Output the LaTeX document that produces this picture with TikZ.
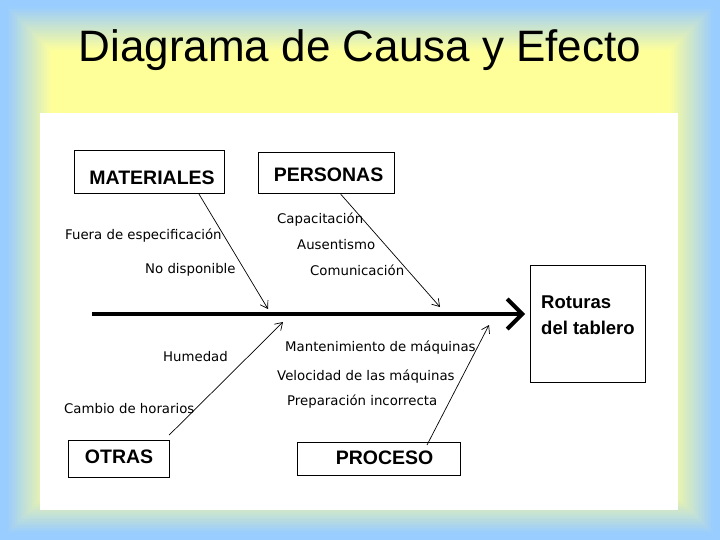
\documentclass[tikz,border=0pt]{standalone}
\usepackage{fontspec}
\setmainfont{Liberation Sans}
\newfontfamily\lblfont{DejaVu Sans}
\usetikzlibrary{arrows.meta,calc}
\definecolor{bgblue}{RGB}{153,204,255}
\definecolor{bgyellow}{RGB}{255,255,153}
\begin{document}
\begin{tikzpicture}[x=1pt,y=-1pt,
  catbox/.style={draw=black, line width=1.2pt, inner sep=0pt, anchor=north west, font=\fontsize{19.5}{22}\selectfont\bfseries},
  cause/.style={anchor=base west, inner sep=0pt, font=\lblfont\fontsize{13.3}{15}\selectfont},
  bone/.style={line width=0.7pt, -{Straight Barb[length=7pt,width=9pt]}},
  spine/.style={line width=4pt, -{Straight Barb[length=15pt,width=30pt]}},
]
\useasboundingbox (0,0) rectangle (720,540);
% background
\fill[bgblue] (0,0) rectangle (720,540);
\foreach \i [evaluate=\i as \p using {\i*100/30}, evaluate=\i as \d using {6+1.5*\i}] in {0,...,30} {
  \fill[bgyellow!\p!bgblue] (\d,\d) rectangle ({720-\d},{540-\d});
}
\fill[white] (40,113) rectangle (678,510);
% title
\node[anchor=base, inner sep=0pt, font=\fontsize{44}{50}\selectfont] (title) at (360,62) {Diagrama de Causa y Efecto};
% category boxes
\node[catbox, minimum width=150, text height=34pt, text depth=9pt] (mat) at (74,150) {\hspace*{5pt}MATERIALES};
\node[catbox, minimum width=136, text height=29pt, text depth=12pt] (per) at (258,152) {\hspace*{4pt}PERSONAS};
\node[catbox, minimum width=101, text height=23pt, text depth=14pt] (otr) at (68,440) {OTRAS};
\node[catbox, minimum width=163, text height=22pt, text depth=11pt] (pro) at (297,442) {\hspace*{11pt}PROCESO};
% effect
\node[draw=black, line width=1.2pt, inner sep=0pt, anchor=north west, minimum width=115, minimum height=117] (efecto) at (530,265) {};
\node[anchor=north west, inner sep=0pt, align=left, font=\fontsize{18.5}{26}\selectfont\bfseries] (efectotxt) at (541,296) {Roturas\\del tablero};
% causes
\node[cause] (c1) at (65,240) {Fuera de especificación};
\node[cause] (c2) at (145,273) {No disponible};
\node[cause] (c3) at (277,223) {Capacitación};
\node[cause] (c4) at (297,249) {Ausentismo};
\node[cause] (c5) at (310,275) {Comunicación};
\node[cause] (c6) at (163,361) {Humedad};
\node[cause] (c7) at (64,413) {Cambio de horarios};
\node[cause] (c8) at (285,351) {Mantenimiento de máquinas};
\node[cause] (c9) at (277,380) {Velocidad de las máquinas};
\node[cause] (c10) at (287,405) {Preparación incorrecta};
% spine
\coordinate (tail) at (92,314);
\coordinate (head) at (525,314);
\draw[spine] (tail) -- (head);
% bones
\coordinate (matend) at (268,309);
\coordinate (perend) at (440,307);
\coordinate (otrend) at (283,322);
\coordinate (proend) at (489,325);
\draw[bone] ($(mat.south west)!0.827!(mat.south east)$) -- (matend);
\draw[bone] ($(per.south west)!0.603!(per.south east)$) -- (perend);
\draw[bone] ($(otr.north east)+(-1,-5)$) -- (otrend);
\draw[bone] ($(pro.north west)+(130,3)$) -- (proend);
\end{tikzpicture}
\end{document}
